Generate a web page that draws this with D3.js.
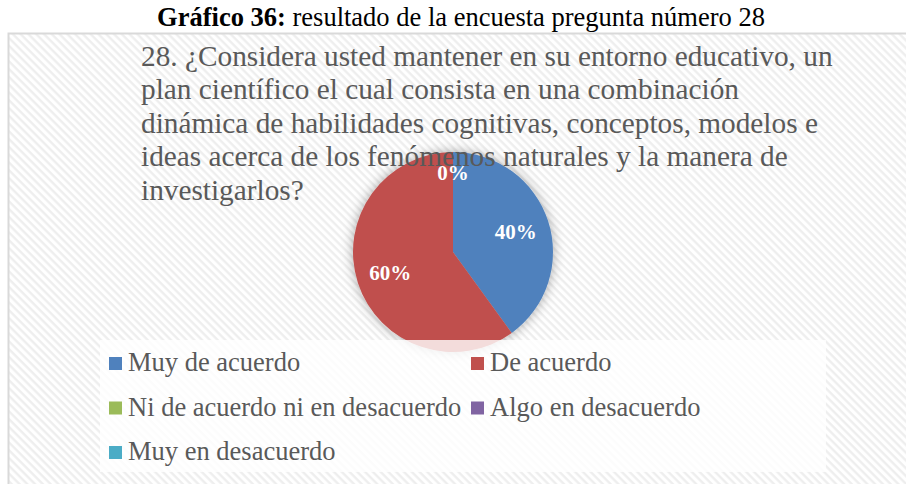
<!DOCTYPE html>
<html>
<head>
<meta charset="utf-8">
<script src="https://cdn.jsdelivr.net/npm/d3@7"></script>
<style>
  body { margin: 0; background: #ffffff; }
  svg { display: block; }
</style>
</head>
<body>
<svg id="drawing_region"></svg>
<script>
const categories = ["Muy de acuerdo", "De acuerdo", "Ni de acuerdo ni en desacuerdo", "Algo en desacuerdo", "Muy en desacuerdo"];
const values = [40, 60, 0, 0, 0];
const colors = ["#4f81bd", "#c0504d", "#9bbb59", "#8064a2", "#4bacc6"];
const captionBold = "Gráfico 36:";
const captionText = " resultado de la encuesta pregunta número 28";
const titleLines = [
    "28. ¿Considera usted mantener en su entorno educativo, un",
    "plan científico el cual consista en una combinación",
    "dinámica de habilidades cognitivas, conceptos, modelos e",
    "ideas acerca de los fenómenos naturales y la manera de",
    "investigarlos?"
];

const config = {
    parent: '#drawing_region',
    width: 906,
    height: 484,
    center: {x: 453, y: 252},
    radius: 100,
    font: '"Liberation Serif", "Times New Roman", serif'
};

const data = categories.map((c, i) => ({name: c, value: values[i], color: colors[i]}));

const svg = d3.select(config.parent)
    .attr('width', config.width)
    .attr('height', config.height);

const defs = svg.append('defs');

// diagonal hatch background of the chart area
const pattern = defs.append('pattern')
    .attr('id', 'hatch')
    .attr('patternUnits', 'userSpaceOnUse')
    .attr('width', 5.5)
    .attr('height', 5.5)
    .attr('patternTransform', 'rotate(-45)');
pattern.append('rect')
    .attr('width', 5.5).attr('height', 5.5)
    .attr('fill', '#ffffff');
pattern.append('line')
    .attr('x1', 1.5).attr('y1', 0)
    .attr('x2', 1.5).attr('y2', 5.5)
    .attr('stroke', '#ededed')
    .attr('stroke-width', 2.2);

const shadow = defs.append('filter')
    .attr('id', 'pieshadow')
    .attr('x', '-30%').attr('y', '-30%')
    .attr('width', '160%').attr('height', '160%');
shadow.append('feDropShadow')
    .attr('dx', 0).attr('dy', 0)
    .attr('stdDeviation', 6)
    .attr('flood-color', '#000')
    .attr('flood-opacity', 0.35);

// caption above the chart
const caption = svg.append('text')
    .attr('x', 461)
    .attr('y', 26)
    .attr('text-anchor', 'middle')
    .style('font-family', config.font)
    .style('font-size', '26.5px')
    .style('fill', '#000');
caption.append('tspan').style('font-weight', 'bold').text(captionBold);
caption.append('tspan').text(captionText);

// chart area
svg.append('rect')
    .attr('x', 8.5)
    .attr('y', 33.5)
    .attr('width', 920)
    .attr('height', 470)
    .attr('fill', 'url(#hatch)')
    .attr('stroke', '#d9d9d9')
    .attr('stroke-width', 2);

// pie
const pie = d3.pie().sort(null).value(d => d.value);
const arc = d3.arc().innerRadius(0).outerRadius(config.radius);
const arcs = pie(data);

const chart = svg.append('g')
    .attr('transform', `translate(${config.center.x}, ${config.center.y})`);

chart.append('g')
    .attr('filter', 'url(#pieshadow)')
    .selectAll('path')
    .data(arcs)
    .enter()
    .append('path')
    .attr('d', arc)
    .attr('fill', d => d.data.color);

// zero slices all sit at the same angle, their labels stack into one
const firstZero = arcs.findIndex(d => d.data.value === 0);
const labelArcs = arcs.filter((d, i) => d.data.value !== 0 || i === firstZero);

chart.selectAll('text.label')
    .data(labelArcs)
    .enter()
    .append('text')
    .attr('class', 'label')
    .attr('transform', d => {
        const r = d.data.value === 0 ? 79 : 66;
        const c = d3.arc().innerRadius(r).outerRadius(r).centroid(d);
        return `translate(${c[0]}, ${c[1]})`;
    })
    .attr('text-anchor', 'middle')
    .attr('dy', '0.35em')
    .style('font-family', config.font)
    .style('font-weight', 'bold')
    .style('font-size', '21px')
    .style('fill', '#ffffff')
    .text(d => d.data.value + '%');

// chart title (drawn over the pie)
svg.append('g')
    .selectAll('text')
    .data(titleLines)
    .enter()
    .append('text')
    .attr('x', 141)
    .attr('y', (d, i) => 65.5 + i * 33.6)
    .style('font-family', config.font)
    .style('font-size', '29.3px')
    .style('fill', '#595959')
    .text(d => d);

// legend
const legend = svg.append('g');
legend.append('rect')
    .attr('x', 100)
    .attr('y', 340)
    .attr('width', 726)
    .attr('height', 132)
    .attr('fill', '#ffffff')
    .attr('fill-opacity', 0.8);

const items = legend.selectAll('g.item')
    .data(data)
    .enter()
    .append('g')
    .attr('class', 'item')
    .attr('transform', (d, i) => `translate(${i % 2 === 0 ? 109 : 471}, ${371 + Math.floor(i / 2) * 44.5})`);

items.append('rect')
    .attr('x', 0)
    .attr('y', -14)
    .attr('width', 13)
    .attr('height', 13)
    .attr('fill', d => d.color);

items.append('text')
    .attr('x', 19)
    .attr('y', 0)
    .style('font-family', config.font)
    .style('font-size', '26.5px')
    .style('fill', '#595959')
    .text(d => d.name);
</script>
</body>
</html>
